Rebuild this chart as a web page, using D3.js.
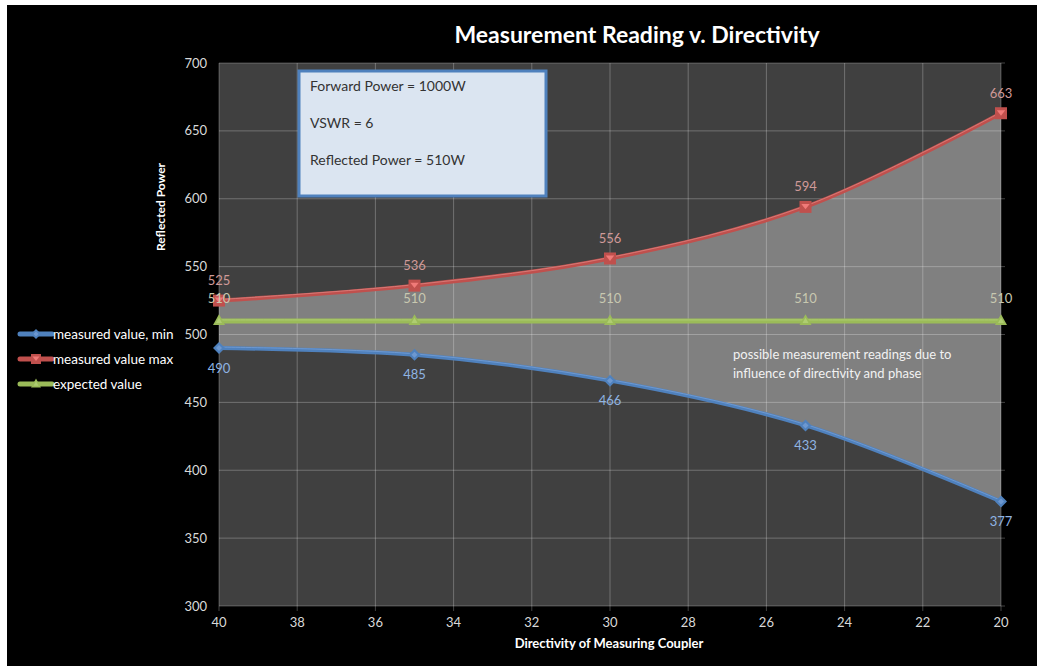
<!DOCTYPE html>
<html>
<head>
<meta charset="utf-8">
<script src="https://cdn.jsdelivr.net/npm/d3@7"></script>
<style>
  html, body { margin: 0; padding: 0; background: #fff; }
  svg { display: block; }
  text { font-family: Lato, "Open Sans", sans-serif; }
</style>
</head>
<body>
<div id="chart"></div>
<script>
const directivity = [40, 35, 30, 25, 20];
const minValues = [490, 485, 466, 433, 377];
const maxValues = [525, 536, 556, 594, 663];
const expectedValues = [510, 510, 510, 510, 510];
const xTicks = [40, 38, 36, 34, 32, 30, 28, 26, 24, 22, 20];
const yTicks = [300, 350, 400, 450, 500, 550, 600, 650, 700];
const infoLines = ["Forward Power = 1000W", "VSWR = 6", "Reflected Power = 510W"];
const seriesNames = ["measured value, min", "measured value max", "expected value"];

const W = 1037, H = 666;
const margin = { top: 63, right: 36, bottom: 61, left: 219 };
const innerW = 1001 - margin.left;
const innerH = 606 - margin.top;

const svg = d3.select("#chart").append("svg").attr("width", W).attr("height", H);

// white frame at top/left, black canvas
svg.append("rect").attr("width", W).attr("height", H).attr("fill", "#fff");
svg.append("rect").attr("x", 7).attr("y", 5).attr("width", W - 7).attr("height", H - 5).attr("fill", "#000");

const x = d3.scaleLinear().domain([40, 20]).range([0, innerW]);
const y = d3.scaleLinear().domain([300, 700]).range([innerH, 0]);

const g = svg.append("g").attr("transform", `translate(${margin.left},${margin.top})`);

g.append("rect").attr("width", innerW).attr("height", innerH).attr("fill", "#404040");

const rows = directivity.map((d, i) => ({ d, min: minValues[i], max: maxValues[i], exp: expectedValues[i] }));
const curve = d3.curveCatmullRom.alpha(0.5);

// shaded band between min and max
g.append("path")
  .datum(rows)
  .attr("fill", "#808080")
  .attr("d", d3.area().x(r => x(r.d)).y0(r => y(r.min)).y1(r => y(r.max)).curve(curve));

// grid
g.append("g")
  .selectAll("line.v")
  .data(xTicks)
  .join("line")
  .attr("x1", d => x(d)).attr("x2", d => x(d))
  .attr("y1", 0).attr("y2", innerH + 5)
  .attr("stroke", "rgba(255,255,255,0.26)")
  .attr("stroke-width", 1);
g.append("g")
  .selectAll("line.h")
  .data(yTicks)
  .join("line")
  .attr("x1", 0).attr("x2", innerW + 4)
  .attr("y1", d => y(d)).attr("y2", d => y(d))
  .attr("stroke", "rgba(255,255,255,0.26)")
  .attr("stroke-width", 1);

// tick labels
g.append("g")
  .selectAll("text")
  .data(yTicks)
  .join("text")
  .attr("x", -12)
  .attr("y", d => y(d))
  .attr("dy", "0.35em")
  .attr("text-anchor", "end")
  .attr("fill", "#d9d9d9")
  .attr("font-size", 13)
  .text(d => d);
g.append("g")
  .selectAll("text")
  .data(xTicks)
  .join("text")
  .attr("x", d => x(d))
  .attr("y", innerH + 21)
  .attr("text-anchor", "middle")
  .attr("fill", "#d9d9d9")
  .attr("font-size", 13)
  .text(d => d);

// axis titles
svg.append("text")
  .attr("transform", "translate(165,207) rotate(-90)")
  .attr("text-anchor", "middle")
  .attr("fill", "#fff")
  .attr("font-size", 12)
  .attr("font-weight", 700)
  .text("Reflected Power");
svg.append("text")
  .attr("x", 609)
  .attr("y", 648)
  .attr("text-anchor", "middle")
  .attr("fill", "#fff")
  .attr("font-size", 13)
  .attr("font-weight", 700)
  .text("Directivity of Measuring Coupler");

// title
svg.append("text")
  .attr("x", 637)
  .attr("y", 43)
  .attr("text-anchor", "middle")
  .attr("fill", "#fff")
  .attr("font-size", 23)
  .attr("font-weight", 700)
  .text("Measurement Reading v. Directivity");

// series
const series = [
  { key: "min", color: "#4f81bd", light: "#7aa3d8", label: "#8fb4e3", marker: "diamond", width: 4, dy: 20 },
  { key: "max", color: "#c0504d", light: "#e08a88", label: "#d09a98", marker: "square", width: 4, dy: -20 },
  { key: "exp", color: "#9bbb59", light: "#b8d47c", label: "#c8c8b0", marker: "triangle", width: 5, dy: -22 }
];

function markerPath(type, s) {
  if (type === "diamond") return `M0,${-s}L${s},0L0,${s}L${-s},0Z`;
  if (type === "triangle") return `M0,${-s * 1.1}L${s},${s * 0.7}L${-s},${s * 0.7}Z`;
  return `M${-s},${-s}H${s}V${s}H${-s}Z`;
}

function drawMarker(sel, sr, s) {
  sel.append("path").attr("d", markerPath(sr.marker, s)).attr("fill", sr.color);
  if (sr.marker === "square") {
    sel.append("path").attr("d", `M${-s * 0.7},${-s * 0.5}L${s * 0.7},${-s * 0.5}L0,${s * 0.4}Z`).attr("fill", "#f07a78");
  } else {
    sel.append("path").attr("d", markerPath(sr.marker, s * 0.5)).attr("fill", sr.light).attr("opacity", 0.7);
  }
}

series.forEach(sr => {
  const lineGen = d3.line().x(r => x(r.d)).y(r => y(r[sr.key])).curve(curve);
  g.append("path").datum(rows)
    .attr("fill", "none").attr("stroke", sr.color).attr("stroke-width", sr.width)
    .attr("stroke-linecap", "round").attr("d", lineGen);
  g.append("path").datum(rows)
    .attr("fill", "none").attr("stroke", sr.light).attr("stroke-width", 1).attr("opacity", 0.7)
    .attr("transform", "translate(0,-1)").attr("d", lineGen);

  g.append("g").selectAll("g")
    .data(rows)
    .join("g")
    .attr("transform", r => `translate(${x(r.d)},${y(r[sr.key])})`)
    .each(function() { drawMarker(d3.select(this), sr, 6); });

  g.append("g").selectAll("text")
    .data(rows)
    .join("text")
    .attr("x", r => x(r.d))
    .attr("y", r => y(r[sr.key]) + sr.dy)
    .attr("dy", "0.35em")
    .attr("text-anchor", "middle")
    .attr("fill", sr.label)
    .attr("font-size", 13)
    .text(r => r[sr.key]);
});

// info box
const box = svg.append("g").attr("transform", "translate(299,71)");
box.append("rect").attr("width", 247).attr("height", 125)
  .attr("fill", "#dbe5f1").attr("stroke", "#4f81bd").attr("stroke-width", 3);
box.selectAll("text")
  .data(infoLines)
  .join("text")
  .attr("x", 11)
  .attr("y", (d, i) => 20 + i * 37)
  .attr("fill", "#333")
  .attr("font-size", 14)
  .text(d => d);

// annotation
svg.append("text")
  .attr("fill", "#f2f2f2")
  .attr("font-size", 13)
  .selectAll("tspan")
  .data(["possible measurement readings due to", "influence of directivity and phase"])
  .join("tspan")
  .attr("x", 733)
  .attr("y", (d, i) => 359 + i * 19)
  .text(d => d);

// legend
const legend = svg.append("g").attr("transform", "translate(20,334)");
series.forEach((sr, i) => {
  const row = legend.append("g").attr("transform", `translate(0,${i * 25})`);
  row.append("line").attr("x1", 0).attr("x2", 32).attr("stroke", sr.color)
    .attr("stroke-width", 5).attr("stroke-linecap", "round");
  const m = row.append("g").attr("transform", "translate(16,0)");
  drawMarker(m, sr, 5);
  row.append("text").attr("x", 33).attr("dy", "0.35em")
    .attr("fill", "#fff").attr("font-size", 13.5).text(seriesNames[i]);
});
</script>
</body>
</html>
